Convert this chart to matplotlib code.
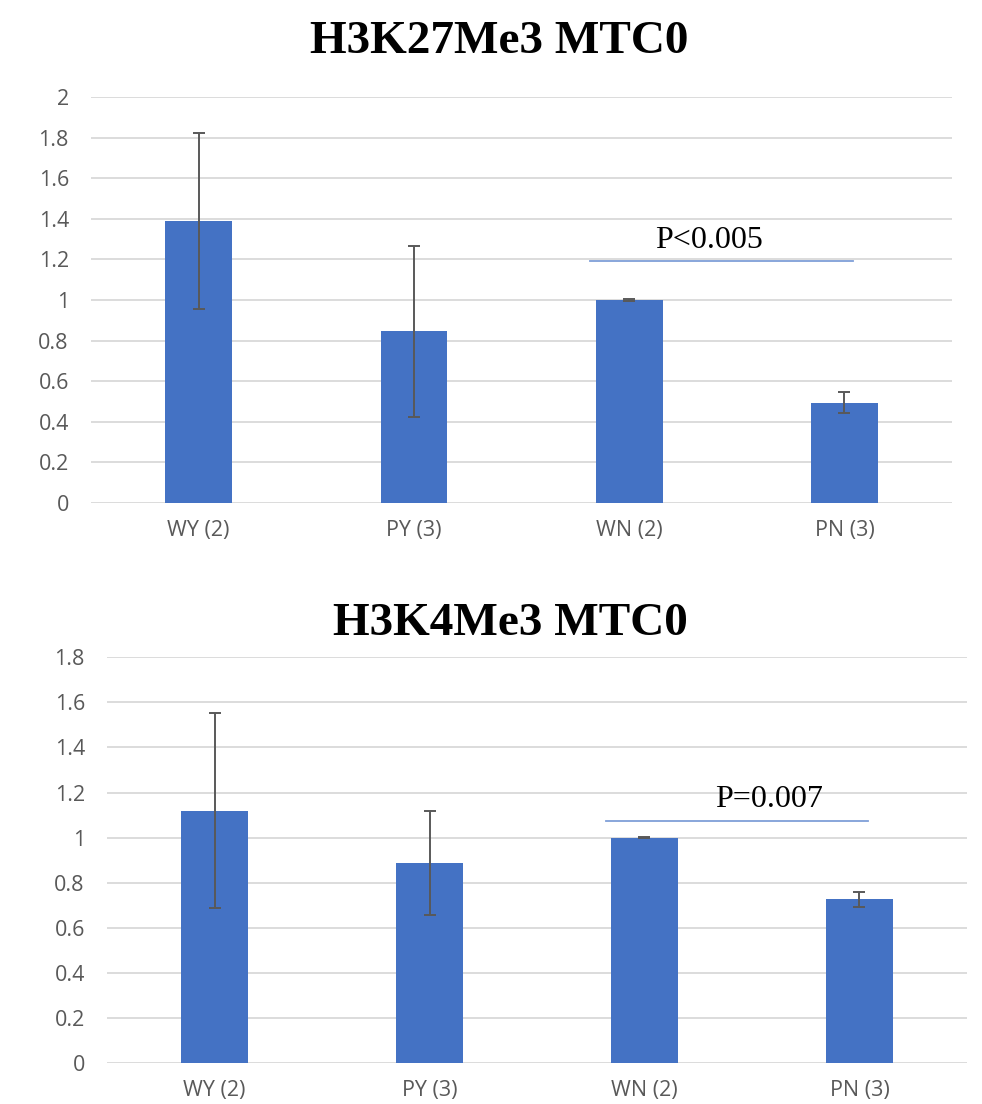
import matplotlib
matplotlib.use("Agg")
import matplotlib.pyplot as plt

# categorias comunes
categorias = ["WY (2)", "PY (3)", "WN (2)", "PN (3)"]

# H3K27Me3
k27_medias = [1.39, 0.845, 1.0, 0.495]
k27_error = [0.433, 0.422, 0.003, 0.05]
k27_p_texto = "P<0.005"
k27_p_nivel = 1.19

# H3K4Me3
k4_medias = [1.12, 0.887, 1.0, 0.726]
k4_error = [0.433, 0.23, 0.003, 0.033]
k4_p_texto = "P=0.007"
k4_p_nivel = 1.074

azul = "#4472C4"
gris = "#595959"

fig = plt.figure(figsize=(9.82, 11.04), dpi=100)


def panel(rect, titulo, medias, error, ymax, p_texto, p_nivel, p_x, titulo_y):
    ax = fig.add_axes(rect)
    x = range(len(categorias))
    ax.bar(x, medias, width=0.31, color=azul, zorder=3)
    ax.errorbar(x, medias, yerr=error, fmt="none", ecolor=gris,
                elinewidth=1.4, capsize=4, capthick=1.4, zorder=4)
    # linea del p-valor
    ax.plot([1.82, 3.04], [p_nivel, p_nivel], color="#7F9FD8", lw=1.3, zorder=5)
    ax.text(p_x, p_nivel + 0.03, p_texto, ha="center", va="bottom",
            fontsize=23, family="Liberation Serif", color="black")

    ax.set_xlim(-0.5, 3.5)
    ax.set_ylim(0, ymax)
    ax.set_yticks([round(i * 0.2, 1) for i in range(int(round(ymax / 0.2)) + 1)])
    ax.set_yticklabels([("%g" % v) for v in ax.get_yticks()])
    ax.set_xticks(list(x))
    ax.set_xticklabels(categorias)
    ax.grid(axis="y", color="#D9D9D9", lw=1.3, zorder=0)
    for s in ax.spines.values():
        s.set_visible(False)
    ax.tick_params(axis="y", length=0, pad=16, labelsize=15.5, labelcolor=gris)
    ax.tick_params(axis="x", length=0, pad=12, labelsize=15.5, labelcolor=gris)
    for t in ax.get_xticklabels() + ax.get_yticklabels():
        t.set_family("Open Sans")

    fig.text(titulo_y[0], titulo_y[1], titulo, ha="center", va="baseline",
             fontsize=34, fontweight="bold", family="Liberation Serif")
    return ax


panel([0.0927, 0.5444, 0.8768, 0.3677], "H3K27Me3 MTC0", k27_medias, k27_error,
      2.0, k27_p_texto, k27_p_nivel, 2.37, (499 / 982, 1 - 53 / 1104))
panel([0.1090, 0.0371, 0.8757, 0.3675], "H3K4Me3 MTC0", k4_medias, k4_error,
      1.8, k4_p_texto, k4_p_nivel, 2.58, (510 / 982, 1 - 635 / 1104))

plt.savefig("out.png", dpi=100)
